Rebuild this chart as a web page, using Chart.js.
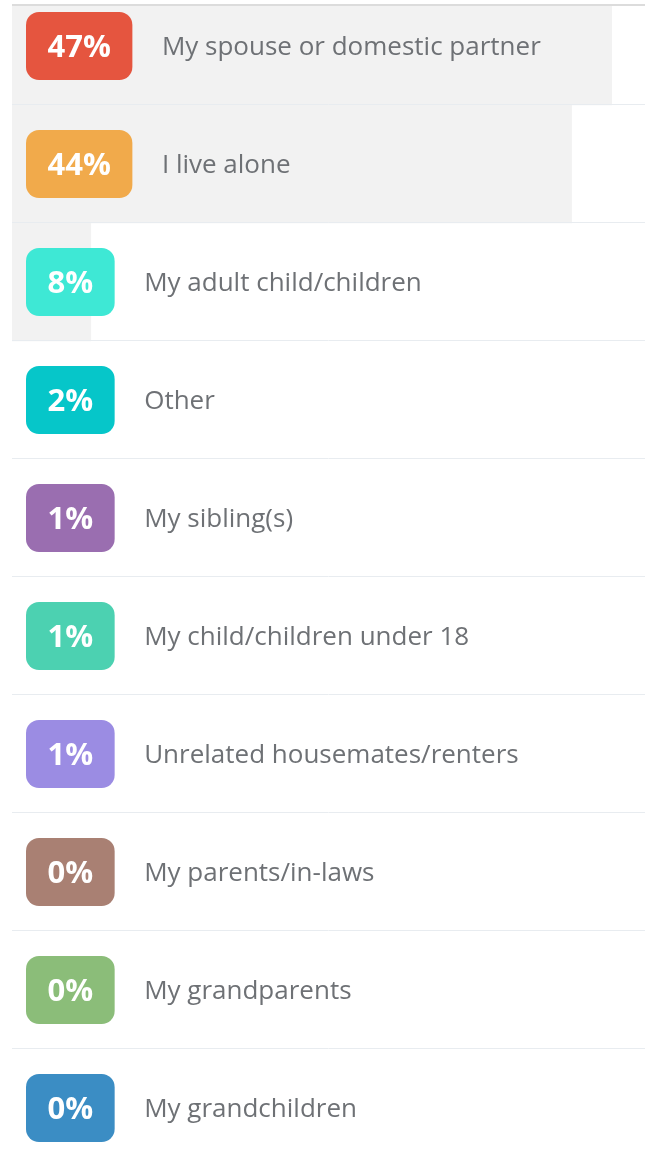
<!DOCTYPE html>
<html>
<head>
<meta charset="utf-8">
<style>
  html, body { margin: 0; padding: 0; background: #fff; overflow: hidden; }
  #wrap { position: absolute; left: 12px; top: 4px; width: 633px; height: 1157px; border-top: 2px solid #dcdcdc; overflow: hidden; }
  #wrap .box { position: absolute; left: 0; top: -19px; width: 633px; height: 1180px; }
</style>
</head>
<body>
<div id="wrap"><div class="box"><canvas id="chart"></canvas></div></div>

<script src="https://cdn.jsdelivr.net/npm/chart.js"></script>
<script>
  const categories = [
    'My spouse or domestic partner',
    'I live alone',
    'My adult child/children',
    'Other',
    'My sibling(s)',
    'My child/children under 18',
    'Unrelated housemates/renters',
    'My parents/in-laws',
    'My grandparents',
    'My grandchildren'
  ];
  const percents = [47, 44, 8, 2, 1, 1, 1, 0, 0, 0];
  const badgeColors = ['#e5553f', '#f1aa4b', '#3ee8d5', '#06c6c9', '#9a6eb0',
                       '#4cd1b1', '#9b8ce3', '#a98073', '#8bbd79', '#3b8dc4'];

  // badges, labels and row separators drawn on top of the grey bars
  const rowsPlugin = {
    id: 'rows',
    afterDatasetsDraw(chart) {
      const ctx = chart.ctx;
      const y = chart.scales.y;
      const area = chart.chartArea;
      const rowH = Math.abs(y.getPixelForValue(1) - y.getPixelForValue(0));
      ctx.save();
      categories.forEach((name, i) => {
        const cy = y.getPixelForValue(i);
        // separator
        ctx.strokeStyle = '#e8ecf0';
        ctx.lineWidth = 1;
        ctx.beginPath();
        ctx.moveTo(area.left, Math.round(cy + rowH / 2) - 0.5);
        ctx.lineTo(area.right, Math.round(cy + rowH / 2) - 0.5);
        ctx.stroke();

        // badge
        const txt = percents[i] + '%';
        ctx.font = 'bold 31px "Open Sans"';
        const tw = ctx.measureText(txt).width;
        const bw = tw + 43, bh = 68, bx = area.left + 14, by = cy - bh / 2;
        ctx.fillStyle = badgeColors[i];
        ctx.beginPath();
        ctx.roundRect(bx, by, bw, bh, 13);
        ctx.fill();
        ctx.fillStyle = '#fff';
        ctx.textBaseline = 'alphabetic';
        ctx.textAlign = 'center';
        ctx.fillText(txt, bx + bw / 2, cy + 11);

        // label
        ctx.font = '26px "Open Sans"';
        ctx.fillStyle = '#6e7175';
        ctx.textAlign = 'left';
        ctx.fillText(name, bx + bw + 29.5, cy + 9);
      });
      ctx.restore();
    }
  };

  new Chart(document.getElementById('chart'), {
    type: 'bar',
    data: {
      labels: categories,
      datasets: [{
        data: percents,
        backgroundColor: '#f2f2f2',
        borderWidth: 0,
        barPercentage: 1,
        categoryPercentage: 1
      }]
    },
    options: {
      indexAxis: 'y',
      responsive: true,
      maintainAspectRatio: false,
      animation: false,
      layout: { padding: 0 },
      plugins: { legend: { display: false }, tooltip: { enabled: false } },
      scales: {
        x: { display: false, min: 2.1, max: 49.5 },
        y: { display: false }
      }
    },
    plugins: [rowsPlugin]
  });
</script>
</body>
</html>
